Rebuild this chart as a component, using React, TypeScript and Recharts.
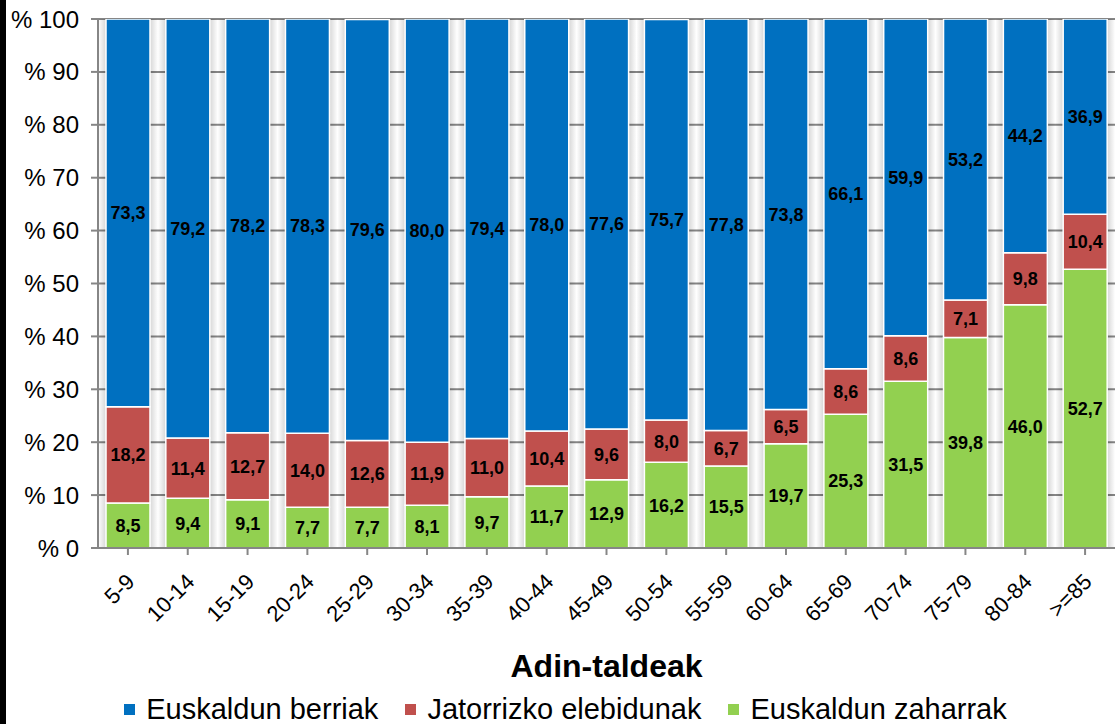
import React from 'react';
import { BarChart, Bar, XAxis, YAxis, CartesianGrid, Legend, LabelList } from 'recharts';

const ageGroups = ['5-9', '10-14', '15-19', '20-24', '25-29', '30-34', '35-39', '40-44', '45-49', '50-54', '55-59', '60-64', '65-69', '70-74', '75-79', '80-84', '>=85'];
const zaharrak = [8.5, 9.4, 9.1, 7.7, 7.7, 8.1, 9.7, 11.7, 12.9, 16.2, 15.5, 19.7, 25.3, 31.5, 39.8, 46.0, 52.7];
const elebidunak = [18.2, 11.4, 12.7, 14.0, 12.6, 11.9, 11.0, 10.4, 9.6, 8.0, 6.7, 6.5, 8.6, 8.6, 7.1, 9.8, 10.4];
const berriak = [73.3, 79.2, 78.2, 78.3, 79.6, 80.0, 79.4, 78.0, 77.6, 75.7, 77.8, 73.8, 66.1, 59.9, 53.2, 44.2, 36.9];
const yTicks = [0, 10, 20, 30, 40, 50, 60, 70, 80, 90, 100];

const data = ageGroups.map((g, i) => ({
  group: g,
  zaharrak: zaharrak[i],
  elebidunak: elebidunak[i],
  berriak: berriak[i],
}));

const legendItems = [
  { name: 'Euskaldun berriak', color: '#0070c0' },
  { name: 'Jatorrizko elebidunak', color: '#c0504d' },
  { name: 'Euskaldun zaharrak', color: '#92d050' },
];

const FONT = 'Arial, "Liberation Sans", sans-serif';
const fmt = (v: any) => Number(v).toFixed(1).replace('.', ',');

const AngleTick = (props: any) => {
  const { x, y, payload } = props;
  return (
    <g transform={`translate(${x + 4},${y + 22})`}>
      <text transform="rotate(-45)" textAnchor="end" dominantBaseline="middle" fontSize={22} fill="#000" fontFamily={FONT}>
        {payload.value}
      </text>
    </g>
  );
};

// soft shading in the gaps beside each bar, like the old Excel 3D look
const GapShade = (props: any) => {
  const { x, y, width, height } = props;
  return (
    <g>
      <rect x={x - 8} y={y} width={8} height={height} fill="url(#shadeL)" />
      <rect x={x + width} y={y} width={8} height={height} fill="url(#shadeR)" />
    </g>
  );
};

const LegendBox = () => (
  <div style={{ display: 'flex', justifyContent: 'center', alignItems: 'center', gap: 27, fontFamily: FONT, fontSize: 29, color: '#000', paddingLeft: 16, lineHeight: '30px', height: 30 }}>
    {legendItems.map((it) => (
      <div key={it.name} style={{ display: 'flex', alignItems: 'center' }}>
        <span style={{ display: 'inline-block', width: 11, height: 11, background: it.color, marginRight: 11 }} />
        <span>{it.name}</span>
      </div>
    ))}
  </div>
);

export default function App() {
  return (
    <div style={{ position: 'absolute', left: 0, top: 0, width: 1115, height: 724, background: '#fff', overflow: 'hidden' }}>
      <BarChart
        width={1115}
        height={724}
        data={data}
        margin={{ top: 19, right: 0, left: 0, bottom: 0 }}
        barSize={44}
      >
        <defs>
          <linearGradient id="shadeL" x1="0" y1="0" x2="1" y2="0">
            <stop offset="0%" stopColor="#000" stopOpacity={0} />
            <stop offset="100%" stopColor="#000" stopOpacity={0.16} />
          </linearGradient>
          <linearGradient id="shadeR" x1="0" y1="0" x2="1" y2="0">
            <stop offset="0%" stopColor="#000" stopOpacity={0.16} />
            <stop offset="100%" stopColor="#000" stopOpacity={0} />
          </linearGradient>
        </defs>
        <CartesianGrid vertical={false} stroke="#868686" strokeWidth={2} />
        <XAxis
          dataKey="group"
          height={146}
          interval={0}
          tick={<AngleTick />}
          tickLine={{ stroke: '#868686', strokeWidth: 2 }}
          tickSize={7}
          axisLine={{ stroke: '#868686', strokeWidth: 2 }}
          label={{ value: 'Adin-taldeak', position: 'insideBottom', offset: 17, fontSize: 32, fontWeight: 'bold', fill: '#000', fontFamily: FONT }}
        />
        <YAxis
          width={98}
          domain={[0, 100]}
          ticks={yTicks}
          allowDataOverflow
          tickFormatter={(v) => `% ${v}`}
          tick={{ fontSize: 24, fill: '#000', fontFamily: FONT }}
          tickLine={{ stroke: '#868686', strokeWidth: 2 }}
          tickSize={7}
          tickMargin={12}
          axisLine={{ stroke: '#868686', strokeWidth: 2 }}
        />
        <Legend verticalAlign="bottom" height={30} content={<LegendBox />} />
        <Bar dataKey="zaharrak" name="Euskaldun zaharrak" stackId="a" fill="#92d050" stroke="#fff" strokeWidth={1.5} isAnimationActive={false} background={<GapShade />}>
          <LabelList dataKey="zaharrak" position="center" formatter={fmt} fill="#000" fontSize={18} fontWeight="bold" fontFamily={FONT} />
        </Bar>
        <Bar dataKey="elebidunak" name="Jatorrizko elebidunak" stackId="a" fill="#c0504d" stroke="#fff" strokeWidth={1.5} isAnimationActive={false}>
          <LabelList dataKey="elebidunak" position="center" formatter={fmt} fill="#000" fontSize={18} fontWeight="bold" fontFamily={FONT} />
        </Bar>
        <Bar dataKey="berriak" name="Euskaldun berriak" stackId="a" fill="#0070c0" stroke="#fff" strokeWidth={1.5} isAnimationActive={false}>
          <LabelList dataKey="berriak" position="center" formatter={fmt} fill="#000" fontSize={18} fontWeight="bold" fontFamily={FONT} />
        </Bar>
      </BarChart>
      <div style={{ position: 'absolute', left: 0, top: 0, width: 6, height: 724, background: '#000' }} />
    </div>
  );
}
